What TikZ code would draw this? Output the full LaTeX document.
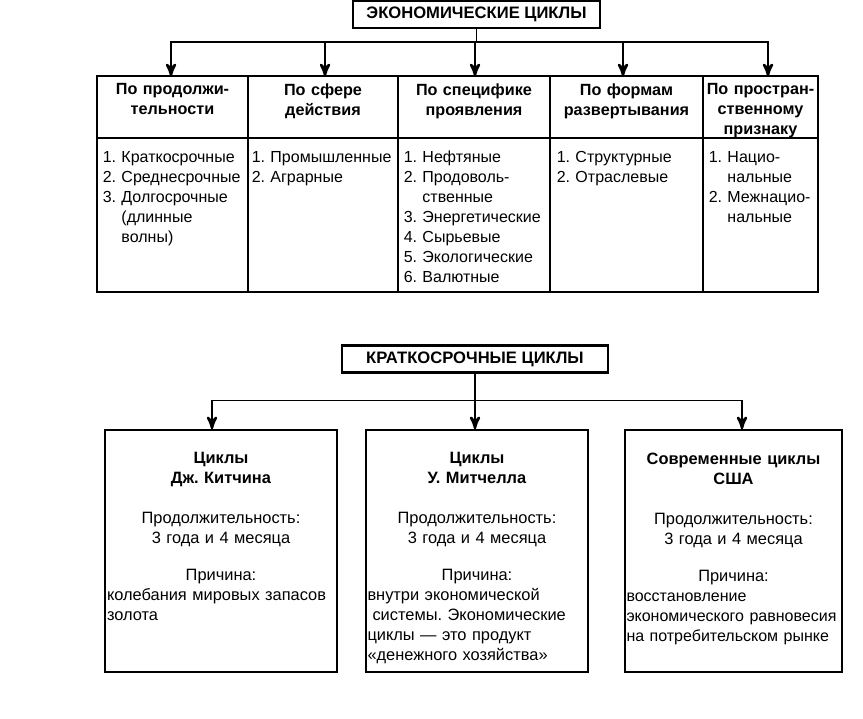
\documentclass[tikz,border=0pt]{standalone}
\usepackage{fontspec}
\usepackage{tikz}
\setmainfont{Liberation Sans}
\frenchspacing
\usetikzlibrary{arrows}
\usetikzlibrary{decorations.markings}
\usetikzlibrary{positioning}
\tikzset{->/.style = {decoration={markings,
                                  mark=at position 1 with {\arrow[scale=1.6]{stealth'}}},
                      postaction={decorate}}}
\tikzset{txt/.style = {font=\fontsize{16}{20}\selectfont},
         headbox/.style = {draw, line width=2.2pt, font=\bfseries\fontsize{16.6}{20}\selectfont,
                           minimum height=27, inner sep=0},
         headcell/.style = {font=\bfseries\fontsize{16.2}{20}\selectfont, anchor = north,
                            align=center, inner xsep=0, inner ysep=7pt},
         listcell/.style = {txt, anchor = north west, align=left, inner sep=0,
                            execute at begin node=\strut},
         cyclebox/.style = {draw, line width=2.2pt, minimum height=242, inner sep=0},
         cycletext/.style = {font=\fontsize{16.4}{20}\selectfont, anchor = north, align=center, inner sep=0}}

\begin{document}
\begin{tikzpicture}[x=1pt, y=-1pt, line width=1.6pt]
      \useasboundingbox [fill=white] (0, 0) rectangle (863, 719);

      \node [headbox, minimum width=247] (econ) at (476.5, 14.5) {ЭКОНОМИЧЕСКИЕ ЦИКЛЫ};

      \draw [line width=2pt] (97, 76) rectangle (818, 292);
      \draw [line width=2pt] (97, 138) -- (818, 138);
      \foreach \x in {248, 398, 550, 703}
        \draw [line width=2pt] (\x, 76) -- (\x, 292);

      \node [headcell, text width=145] (bydur) at (172.5, 76) {По продолжи-\\тельности};
      \node [headcell, text width=144] (bysphere) at (323, 76) {По сфере\\действия};
      \node [headcell, text width=146] (byspec) at (474, 76) {По специфике\\проявления};
      \node [headcell, text width=147] (byform) at (626.5, 76) {По формам\\развертывания};
      \node [headcell, text width=115] (byspace) at (760.5, 76) {По простран-\\ственному\\признаку};

      \foreach \h/\s in {bydur/-1.5, bysphere/2, byspec/1, byform/-3.5, byspace/7.5}
        \draw [->] (econ.south) -- ++(0, 13) -| ([xshift=\s pt]\h.north);

      \node [listcell, text width=146] (durlist) at (102, 148)
            {1. Краткосрочные\\2. Среднесрочные\\3. Долгосрочные\\\hphantom{3. }(длинные\\\hphantom{3. }волны)};
      \node [listcell, text width=148] (spherelist) at (251, 148)
            {1. Промышленные\\2. Аграрные};
      \node [listcell, text width=146] (speclist) at (403, 148)
            {1. Нефтяные\\2. Продоволь-\\\hphantom{2. }ственные\\3. Энергетические\\4. Сырьевые\\5. Экологические\\6. Валютные};
      \node [listcell, text width=144] (formlist) at (556, 148)
            {1. Структурные\\2. Отраслевые};
      \node [listcell, text width=110] (spacelist) at (708, 148)
            {1. Нацио-\\\hphantom{1. }нальные\\2. Межнацио-\\\hphantom{2. }нальные};

      \node [headbox, minimum width=266] (short) at (475, 359) {КРАТКОСРОЧНЫЕ ЦИКЛЫ};

      \node [cyclebox, minimum width=232] (kitchin) at (221, 551) {};
      \node [cyclebox, minimum width=222] (mitchell) at (477, 551) {};
      \node [cyclebox, minimum width=217] (usa) at (733.5, 551) {};

      \foreach \b/\s in {kitchin/-9, mitchell/-2, usa/8.5}
        \draw [->] (short.south) -- ++(0, 27) -| ([xshift=\s pt]\b.north);

      \node [cycletext, text width=228] (kitchintext) at ([yshift=-23pt]kitchin.north)
            {\textbf{Циклы}\\\textbf{Дж. Китчина}\\[20pt]Продолжительность:\\3 года и 4 месяца\\[17pt]Причина:\\[0pt]
             \parbox[t]{\linewidth}{\raggedright колебания мировых запасов\\золота}};
      \node [cycletext, text width=219] (mitchelltext) at ([yshift=-23pt]mitchell.north)
            {\textbf{Циклы}\\\textbf{У. Митчелла}\\[20pt]Продолжительность:\\3 года и 4 месяца\\[17pt]Причина:\\[0pt]
             \parbox[t]{\linewidth}{\raggedright внутри экономической\\\hspace*{5pt}системы. Экономические\\циклы — это продукт\\«денежного хозяйства»}};
      \node [cycletext, text width=214] (usatext) at ([yshift=-23pt]usa.north)
            {\textbf{Современные циклы}\\\textbf{США}\\[20pt]Продолжительность:\\3 года и 4 месяца\\[17pt]Причина:\\[0pt]
             \parbox[t]{\linewidth}{\fontsize{16}{20}\selectfont\raggedright восстановление\\\mbox{экономического равновесия}\\на потребительском рынке}};
    \end{tikzpicture}
\end{document}
